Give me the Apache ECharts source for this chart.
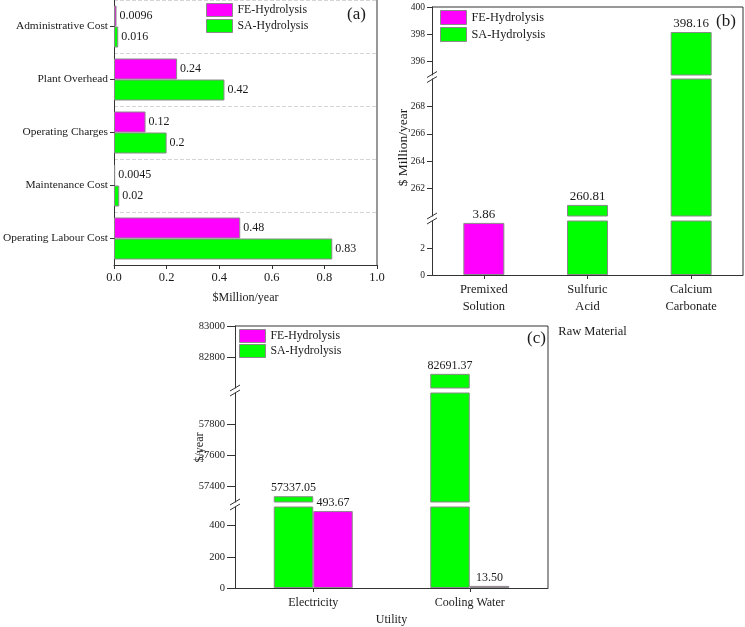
<!DOCTYPE html>
<html><head><meta charset="utf-8">
<script src="https://cdn.jsdelivr.net/npm/echarts@6/dist/echarts.min.js"></script>
<style>html,body{margin:0;padding:0;background:#fff}#c{width:745px;height:627px}</style>
</head><body><div id="c"></div>
<script>
// ---------- DATA ----------
const seriesNames = ['FE-Hydrolysis', 'SA-Hydrolysis'];
// (a) operating costs, $Million/year
const aCategories = ['Administrative Cost', 'Plant Overhead', 'Operating Charges', 'Maintenance Cost', 'Operating Labour Cost'];
const aFE = [0.0096, 0.24, 0.12, 0.0045, 0.48];
const aSA = [0.016, 0.42, 0.2, 0.02, 0.83];
const aTicks = [0, 0.2, 0.4, 0.6, 0.8, 1.0];
// (b) raw material, $ Million/year
const bCategories = ['Premixed\nSolution', 'Sulfuric\nAcid', 'Calcium\nCarbonate'];
const bFE = [3.86, null, null];
const bSA = [null, 260.81, 398.16];
const bRanges = [[0, 4], [260, 270], [395, 400]];          // bottom -> top segments
const bTicks = [[0, 2], [262, 264, 266, 268], [396, 398, 400]];
// (c) utility, $/year
const cCategories = ['Electricity', 'Cooling Water'];
const cSA = [57337.05, 82691.37];
const cFE = [493.67, 13.50];
const cRanges = [[0, 520], [57300, 58000], [82600, 83000]];
const cTicks = [[0, 200, 400], [57400, 57600, 57800], [82800, 83000]];

// ---------- LAYOUT / STYLE ----------
const FONT = 'Liberation Serif';
const COL = { FE: '#ff00ff', SA: '#00ff00' };
const BORDER = '#8a8a8a';
const INK = '#1a1a1a';
const AXC = '#333';
const A = { left: 114, top: 0, right: 377, bottom: 265 };
const B = { left: 432, right: 743, segs: [[221, 275], [79, 216], [7, 75]] };
const C = { left: 235, right: 548, segs: [[507, 588], [393, 502], [326, 388]] };

const txt = { fontFamily: FONT, color: INK };
const axLine = { show: true, lineStyle: { color: AXC, width: 1 } };

const grids = [], xAxes = [], yAxes = [], series = [], graphics = [];

// ----- panel (a)
grids.push({ left: A.left, top: A.top, width: A.right - A.left, height: A.bottom - A.top, containLabel: false, outerBoundsMode: 'none' });
xAxes.push({
  gridIndex: 0, type: 'value', min: aTicks[0], max: aTicks[aTicks.length - 1], interval: 0.2,
  name: '$Million/year', nameLocation: 'middle', nameGap: 27, nameMoveOverlap: false, nameTextStyle: { ...txt, fontSize: 12 },
  axisLine: axLine, axisTick: { show: true, length: 4, lineStyle: { color: AXC } },
  axisLabel: { ...txt, fontSize: 12.5, margin: 6, formatter: v => v.toFixed(1) },
  splitLine: { show: false }
});
yAxes.push({
  gridIndex: 0, type: 'category', data: aCategories, inverse: true,
  axisLine: axLine, axisTick: { show: true, alignWithLabel: true, length: 4, lineStyle: { color: AXC } },
  axisLabel: { ...txt, fontSize: 11.4, margin: 6 },
  splitLine: { show: true, lineStyle: { color: '#d4d4d4', type: 'dashed' } }
});
[[aFE, 'FE'], [aSA, 'SA']].forEach(([d, k]) => {
  series.push({
    type: 'bar', name: seriesNames[k === 'FE' ? 0 : 1], xAxisIndex: 0, yAxisIndex: 0, data: d,
    barWidth: 21, barGap: '0%',
    itemStyle: { color: COL[k], borderColor: BORDER, borderWidth: 1 },
    label: { show: true, position: 'right', distance: 3, ...txt, fontSize: 12, formatter: p => String(p.value) }
  });
});

// ----- broken-axis panels
function brokenPanel(P, cats, ranges, ticks, list, opts) {
  P.segs.forEach(([top, bottom], i) => {
    const gi = grids.length;
    grids.push({ left: P.left, top: top, width: P.right - P.left, height: bottom - top, containLabel: false, outerBoundsMode: 'none' });
    xAxes.push({
      gridIndex: gi, type: 'category', data: cats, show: i === 0,
      axisLine: axLine, axisTick: { show: true, alignWithLabel: true, length: 4, lineStyle: { color: AXC } },
      axisLabel: { ...txt, fontSize: opts.catFont, lineHeight: 17, margin: 6 },
      name: i === 0 ? opts.xName : '', nameLocation: 'middle', nameGap: opts.xNameGap, nameMoveOverlap: false,
      nameTextStyle: { ...txt, fontSize: opts.catFont, padding: opts.xNamePad || 0 }
    });
    yAxes.push({
      gridIndex: gi, type: 'value', min: ranges[i][0], max: ranges[i][1],
      axisLine: axLine,
      axisTick: { show: true, length: opts.tickLen, customValues: ticks[i], lineStyle: { color: AXC } },
      axisLabel: { ...txt, fontSize: opts.tickFont, margin: opts.tickLen + 2, customValues: ticks[i], formatter: v => String(v) },
      splitLine: { show: false },
      name: i === 1 ? opts.yName : '', nameLocation: 'middle', nameGap: opts.yNameGap, nameMoveOverlap: false,
      nameTextStyle: { ...txt, fontSize: opts.yNameFont }
    });
    list.forEach(([vals, k]) => {
      const [lo, hi] = ranges[i];
      series.push({
        type: 'bar', name: seriesNames[k === 'FE' ? 0 : 1], xAxisIndex: gi, yAxisIndex: gi, clip: true,
        data: vals.map(v => v == null ? null : { value: v, label: { show: v > lo && v <= hi } }),
        barWidth: opts.barWidth, barGap: opts.barGap,
        itemStyle: { color: COL[k], borderColor: BORDER, borderWidth: 1 },
        label: { position: 'top', distance: 2, ...txt, fontSize: opts.valFont, formatter: p => p.value.toFixed(2) }
      });
    });
  });
  // frame: top and right
  const top = P.segs[P.segs.length - 1][0], bottom = P.segs[0][1];
  graphics.push(ln(P.left, top, P.right, top), ln(P.right, top, P.right, bottom));
  // break marks
  for (let i = 0; i < P.segs.length - 1; i++) {
    const gy = (P.segs[i][0] + P.segs[i + 1][1]) / 2;
    [-2.5, 2.5].forEach(d => graphics.push(ln(P.left - 5, gy + d + 3, P.left + 5, gy + d - 3)));
  }
}
function ln(x1, y1, x2, y2) {
  return { type: 'line', silent: true, z: 100, shape: { x1, y1, x2, y2 }, style: { stroke: AXC, lineWidth: 1 } };
}

brokenPanel(B, bCategories, bRanges, bTicks, [[bFE, 'FE'], [bSA, 'SA']], {
  xName: 'Raw Material', xNameGap: 50, xNamePad: [0, 0, 0, 10], yName: '$ Million/year', yNameGap: 22,
  catFont: 12.5, tickFont: 9.5, tickLen: 5, yNameFont: 13.5, barWidth: 41, barGap: '-100%', valFont: 13
});
brokenPanel(C, cCategories, cRanges, cTicks, [[cSA, 'SA'], [cFE, 'FE']], {
  xName: 'Utility', xNameGap: 26, yName: '$/year', yNameGap: 29,
  catFont: 12, tickFont: 10.5, tickLen: 8, yNameFont: 12, barWidth: 39.5, barGap: '0%', valFont: 12
});
// panel (a) right frame
graphics.push(ln(A.right, A.top, A.right, A.bottom));

const legendBase = {
  data: seriesNames, orient: 'vertical', icon: 'rect', itemWidth: 26, padding: 0, selectedMode: false,
  itemStyle: { borderColor: BORDER, borderWidth: 1 }
};
const titleBase = { padding: 0, textStyle: { ...txt, fontSize: 17, fontWeight: 'normal' } };

const option = {
  animation: false,
  backgroundColor: '#fff',
  title: [
    { ...titleBase, text: '(a)', left: 347, top: 6 },
    { ...titleBase, text: '(b)', left: 716, top: 13 },
    { ...titleBase, text: '(c)', left: 527, top: 330 }
  ],
  legend: [
    { ...legendBase, left: 206, top: 3, itemHeight: 13, itemGap: 2, textStyle: { ...txt, fontSize: 11.8 } },
    { ...legendBase, left: 440, top: 10, itemHeight: 14, itemGap: 2, textStyle: { ...txt, fontSize: 12.3 } },
    { ...legendBase, left: 239, top: 329, itemHeight: 13, itemGap: 1, textStyle: { ...txt, fontSize: 11.8 } }
  ],
  grid: grids, xAxis: xAxes, yAxis: yAxes, series: series,
  graphic: graphics
};
const chart = echarts.init(document.getElementById('c'));
chart.setOption(option);
</script></body></html>
